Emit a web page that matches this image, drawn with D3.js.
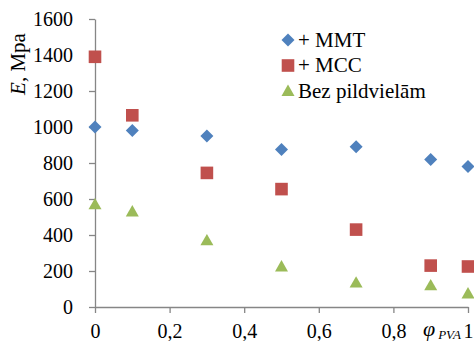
<!DOCTYPE html>
<html>
<head>
<meta charset="utf-8">
<script src="https://cdn.jsdelivr.net/npm/d3@7"></script>
</head>
<body style="margin:0;background:#fff">
<svg id="chart" width="474" height="341"></svg>
<script>
const xValues = [0, 0.1, 0.3, 0.5, 0.7, 0.9, 1];
const mmt = [1000, 980, 950, 875, 890, 820, 780];
const mcc = [1390, 1065, 745, 655, 430, 230, 225];
const bez = [570, 530, 370, 225, 135, 120, 75];
const xTicks = [0, 0.2, 0.4, 0.6, 0.8, 1];
const yTicks = [0, 200, 400, 600, 800, 1000, 1200, 1400, 1600];
const seriesNames = ['+ MMT', '+ MCC', 'Bez pildvielām'];

const svg = d3.select('#chart');
const margin = { top: 19, right: 6, bottom: 34, left: 95 };
const width = 474, height = 341;
const font = (size, italic) =>
  `font-family:'Liberation Serif';font-size:${size}px` + (italic ? ';font-style:italic' : '');

const x = d3.scaleLinear().domain([0, 1]).range([margin.left, width - margin.right]);
const y = d3.scaleLinear().domain([0, 1600]).range([height - margin.bottom, margin.top]);

const axisColor = '#868686';
const fmt = (d) => String(d).replace('.', ',');

const xAxis = svg.append('g')
  .attr('transform', `translate(0,${y(0)})`)
  .call(d3.axisBottom(x).tickValues(xTicks).tickFormat(fmt).tickSize(6).tickSizeOuter(0));
const yAxis = svg.append('g')
  .attr('transform', `translate(${x(0)},0)`)
  .call(d3.axisLeft(y).tickValues(yTicks).tickFormat(d3.format('d')).tickSize(6).tickSizeOuter(0));

[xAxis, yAxis].forEach((g) => {
  g.attr('font-family', null).attr('font-size', null);
  g.select('.domain').attr('stroke', axisColor).attr('stroke-width', 1.3);
  g.selectAll('.tick line').attr('stroke', axisColor).attr('stroke-width', 1.3);
  g.selectAll('.tick text').attr('fill', '#000').attr('style', font(20));
});
xAxis.selectAll('.tick text').attr('dy', 0).attr('y', 31);
yAxis.selectAll('.tick text').attr('x', -22);

const colors = ['#4F81BD', '#C0504D', '#9BBB59'];
const diamond = (r) => `M0,${-r}L${r},0L0,${r}L${-r},0Z`;
const square = (r) => `M${-r},${-r}H${r}V${r}H${-r}Z`;
const triangle = (r) => `M0,${-r}L${r},${r * 0.75}L${-r},${r * 0.75}Z`;
const symPath = [diamond(6.5), square(6.3), triangle(6.5)];

const allSeries = [mmt, mcc, bez];
allSeries.forEach((vals, i) => {
  svg.append('g').selectAll('path')
    .data(vals)
    .join('path')
    .attr('d', symPath[i])
    .attr('transform', (d, j) => `translate(${x(xValues[j])},${y(d)})`)
    .attr('fill', colors[i]);
});

// legend
const legend = svg.append('g').attr('transform', 'translate(288,40)');
seriesNames.forEach((name, i) => {
  const g = legend.append('g').attr('transform', `translate(0,${i * 25.5})`);
  g.append('path').attr('d', symPath[i]).attr('fill', colors[i]);
  g.append('text').attr('x', 10).attr('y', 6.5).attr('style', font(21)).text(name);
});

// y label
const yl = svg.append('text')
  .attr('transform', 'translate(25,64) rotate(-90)')
  .attr('text-anchor', 'middle')
  .attr('style', font(21));
yl.append('tspan').attr('style', font(21, true)).text('E');
yl.append('tspan').text(', Mpa');

// x label
const xl = svg.append('text').attr('x', 423).attr('y', 336).attr('style', font(20));
xl.append('tspan').attr('style', font(22, true)).text('φ');
xl.append('tspan').attr('style', font(13, true)).attr('dx', 3).attr('dy', 3).text('PVA');
</script>
</body>
</html>
